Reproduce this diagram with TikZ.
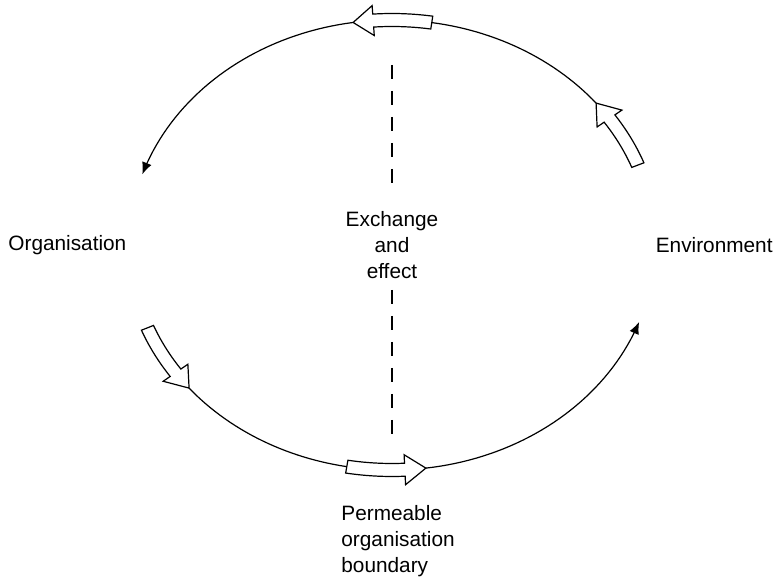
\documentclass[tikz,border=0pt]{standalone}
\usepackage{fontspec}
\setmainfont{Liberation Sans}
\usetikzlibrary{arrows.meta}

\tikzset{
  flow/.style={line width=0.6pt},
  flowarrow/.style={flow,-{Latex[length=6pt,width=5pt]}},
  hollow/.style={line width=0.6pt,fill=white,line join=miter},
  divider/.style={line width=0.6pt,dash pattern=on 7pt off 6pt},
  txt/.style={font=\fontsize{10.4}{13}\selectfont,inner sep=0pt}
}

% hollow arrow on the loop: tail angle, back of head, tip
\newcommand{\hollowarrow}[3]{%
  \draw[hollow] plot[domain=#1:#2,samples=12] ({269.5*cos(\x)},{231.5*sin(\x)})
    -- ({278*cos(#2)},{240*sin(#2)}) -- ({263*cos(#3)},{225*sin(#3)})
    -- ({248*cos(#2)},{210*sin(#2)})
    -- plot[domain=#2:#1,samples=12] ({256.5*cos(\x)},{218.5*sin(\x)}) -- cycle;}

\begin{document}
\begin{tikzpicture}[x=0.5pt,y=0.5pt]
    \useasboundingbox (-392,-332) rectangle (384,245);
    % the loop
    \draw[flow] plot[domain=39.1:81.3,samples=30] ({263*cos(\x)},{225*sin(\x)});
    \draw[flowarrow] plot[domain=98.5:161.7,samples=40] ({263*cos(\x)},{225*sin(\x)});
    \draw[flow] plot[domain=219.5:260.1,samples=30] ({263*cos(\x)},{225*sin(\x)});
    \draw[flowarrow] plot[domain=277.4:340,samples=40] ({263*cos(\x)},{225*sin(\x)});
    \hollowarrow{20.8}{34.2}{39.1}
    \hollowarrow{81.3}{94.1}{98.5}
    \hollowarrow{201.6}{214.6}{219.5}
    \hollowarrow{260.1}{272.8}{277.4}
    % boundary line
    \coordinate (dtop) at (0,180);
    \coordinate (dupper) at (0,55);
    \coordinate (dlower) at (0,-45);
    \coordinate (dbot) at (0,-200);
    \draw[divider] (dtop) -- (dupper);
    \draw[divider] (dlower) -- (dbot);
    \node[txt,anchor=west] (org) at (-384,0) {Organisation};
    \node[txt,anchor=east] (env) at (381,0) {Environment};
    \node[txt,align=center] (exchange) at (0,0) {Exchange\\and\\effect};
    \node[txt,align=left,anchor=west] (boundary) at (-51,-296)
      {Permeable\\organisation\\boundary};
\end{tikzpicture}
\end{document}
